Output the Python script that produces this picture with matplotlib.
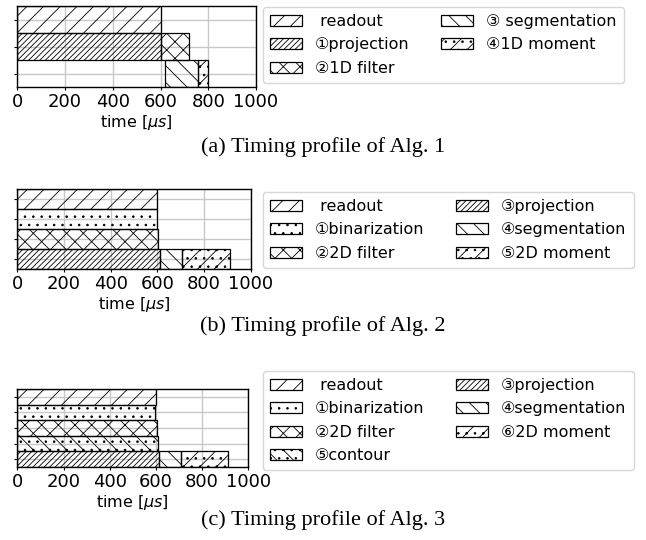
import matplotlib
matplotlib.use("Agg")
import matplotlib.pyplot as plt

# ---------------- data ----------------
xticks = [0, 200, 400, 600, 800, 1000]

# Alg. 1
a1_labels = [" readout", "①projection", "②1D filter", "③ segmentation", "④1D moment"]
a1_rows = [0, 1, 1, 2, 2]
a1_start = [0, 0, 600, 620, 755]
a1_dur = [600, 600, 120, 135, 45]
a1_hatch = ["//", "//////", "xx", "\\\\", "//.."]

# Alg. 2
a2_labels = [" readout", "①binarization", "②2D filter", "③projection", "④segmentation", "⑤2D moment"]
a2_rows = [0, 1, 2, 3, 3, 3]
a2_start = [0, 0, 0, 0, 612, 706]
a2_dur = [598, 598, 604, 612, 94, 204]
a2_hatch = ["//", "..", "xx", "//////", "\\\\", "//.."]

# Alg. 3
a3_labels = [" readout", "①binarization", "②2D filter", "⑤contour", "③projection", "④segmentation", "⑥2D moment"]
a3_rows = [0, 1, 2, 3, 4, 4, 4]
a3_start = [0, 0, 0, 0, 0, 612, 708]
a3_dur = [600, 598, 605, 610, 612, 96, 204]
a3_hatch = ["//", "..", "xx", "\\\\..", "//////", "\\\\", "//.."]

captions = ["(a) Timing profile of Alg. 1", "(b) Timing profile of Alg. 2", "(c) Timing profile of Alg. 3"]

plt.rcParams["hatch.linewidth"] = 0.6

W, H = 646, 540
fig = plt.figure(figsize=(W / 100, H / 100), dpi=100)


def fx(px):
    return px / W


def fy(py):
    return 1 - py / H


axes_px = [  # left, right, top, bottom in pixels
    (17.3, 256.0, 6, 87),
    (17.3, 250.7, 189, 269),
    (17.3, 248.3, 389, 467),
]
legend_px = [(263, 7), (263, 192), (263, 371)]
caption_y = [147, 326, 520]

datasets = [
    (a1_labels, a1_rows, a1_start, a1_dur, a1_hatch),
    (a2_labels, a2_rows, a2_start, a2_dur, a2_hatch),
    (a3_labels, a3_rows, a3_start, a3_dur, a3_hatch),
]

for i, (labels, rows, starts, durs, hatches) in enumerate(datasets):
    l, r, t, b = axes_px[i]
    ax = fig.add_axes([fx(l), fy(b), fx(r) - fx(l), fy(t) - fy(b)])
    nrows = max(rows) + 1
    handles = []
    for lab, row, s, d, h in zip(labels, rows, starts, durs, hatches):
        bars = ax.barh(row, d, left=s, height=1.0, facecolor="none",
                       edgecolor="black", linewidth=0.9, hatch=h, label=lab, zorder=3)
        handles.append(bars)
    ax.set_ylim(nrows - 0.5, -0.5)
    ax.set_xlim(0, 1000)
    ax.set_xticks(xticks)
    ax.set_yticks(range(nrows))
    ax.set_yticklabels([""] * nrows)
    ax.grid(True, color="#c8c8c8", linewidth=1.0, zorder=0)
    ax.set_axisbelow(True)
    ax.tick_params(axis="x", labelsize=13, length=2.5, pad=2)
    ax.tick_params(axis="y", length=2.5)
    ax.set_xlabel(r"time [$\mu s$]", fontsize=11.5, labelpad=1)
    for sp in ax.spines.values():
        sp.set_linewidth(1.0)

    lx, ly = legend_px[i]
    fig.legend(handles=handles, labels=labels, ncol=2, loc="upper left",
               bbox_to_anchor=(fx(lx), fy(ly)), borderaxespad=0,
               fontsize=11.5, handlelength=2.0, columnspacing=2.0,
               labelspacing=0.52, borderpad=0.45)

    fig.text(0.5, fy(caption_y[i]), captions[i], ha="center", va="center",
             family="Liberation Serif", fontsize=16)

fig.savefig("out.png", dpi=100)
